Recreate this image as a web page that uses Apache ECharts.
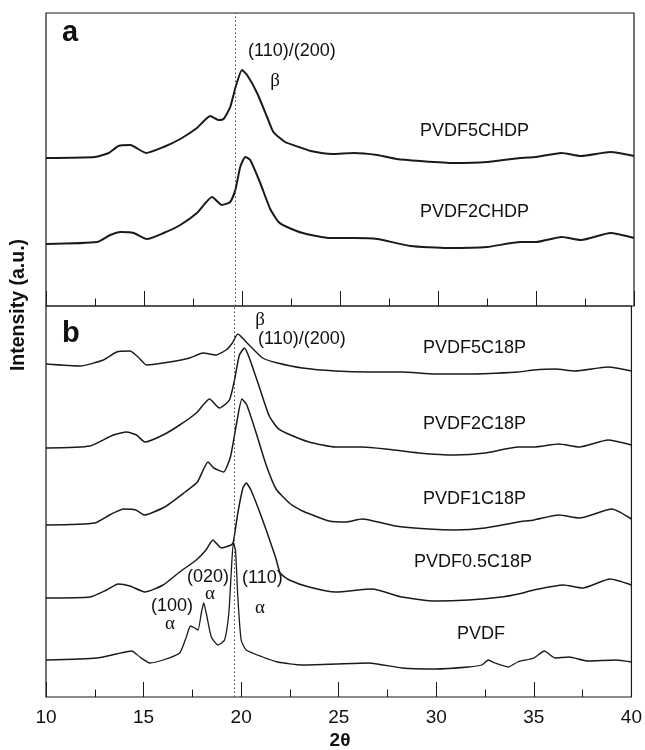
<!DOCTYPE html>
<html>
<head>
<meta charset="utf-8">
<script src="https://cdn.jsdelivr.net/npm/echarts@6/dist/echarts.min.js"></script>
<style>html,body{margin:0;padding:0;background:#fff}#c{width:645px;height:750px}</style>
</head>
<body>
<div id="c"></div>
<script>
// ---- Data (2θ in degrees, intensity in arbitrary units) ----
const xTicks = [10, 15, 20, 25, 30, 35, 40];
const refLine = 19.66;

// Panel a
const pvdf5chdpX = [10, 12.5, 13.2, 13.7, 14.3, 15.1, 16.0, 16.85, 17.7, 18.38, 18.8, 19.06, 19.4, 19.66, 20.0, 20.26, 20.77, 21.28, 21.6, 22.2, 22.9, 23.5, 24.6, 25.7, 26.9, 27.9, 29.1, 30.8, 32.5, 34.2, 35.0, 36.3, 37.3, 38.8, 40];
const pvdf5chdpY = [148, 149, 153, 160, 161, 153, 159, 167, 178, 190, 186, 187, 199, 218, 236, 231, 213, 189, 174, 164, 159, 155, 152, 153, 151, 147, 145, 143, 144, 148, 149, 153, 150, 154, 150];
const pvdf2chdpX = [10, 12.6, 13.28, 13.8, 14.47, 15.15, 16.0, 16.85, 17.7, 18.47, 18.98, 19.4, 19.66, 19.91, 20.17, 20.42, 20.93, 21.44, 21.87, 22.3, 23.1, 24.5, 25.7, 26.9, 28.6, 30.5, 32.5, 34.2, 35.0, 36.3, 37.3, 38.8, 40];
const pvdf2chdpY = [62, 64, 71, 74, 73, 67, 73, 81, 93, 109, 101, 104, 116, 139, 149, 146, 123, 97, 84, 79, 73, 68, 68, 67, 60, 58, 59, 64, 64, 69, 66, 73, 68];

// Panel b
const pvdf5c18pX = [10, 11.75, 12.94, 13.62, 14.3, 14.72, 15.15, 16.34, 17.36, 18.04, 18.72, 19.23, 19.55, 19.83, 20.26, 21.1, 21.87, 23.14, 24.84, 26.54, 28.24, 29.94, 31.65, 34.2, 35.0, 36.1, 37.1, 38.8, 40];
const pvdf5c18pY = [333, 331, 337, 345, 346, 340, 332, 335, 339, 344, 342, 347, 354, 363, 355, 339, 334, 329, 326, 325, 325, 323, 323, 325, 327, 328, 326, 330, 326];
const pvdf2c18pX = [10, 12.26, 13.45, 14.13, 14.64, 15.07, 16.0, 16.85, 17.7, 18.38, 18.89, 19.4, 19.66, 19.91, 20.17, 20.42, 20.93, 21.44, 21.87, 22.3, 23.48, 24.84, 26.2, 27.4, 29.1, 30.97, 32.5, 34.2, 35.0, 36.28, 37.33, 38.8, 40];
const pvdf2c18pY = [249, 251, 262, 265, 262, 255, 262, 272, 284, 298, 289, 297, 317, 342, 349, 339, 310, 281, 269, 264, 255, 250, 250, 248, 244, 242, 244, 250, 250, 253, 250, 257, 252];
const pvdf1c18pX = [10, 12.5, 13.35, 13.98, 14.6, 15.03, 16.08, 17.13, 17.76, 18.3, 18.6, 19.1, 19.45, 19.76, 20.04, 20.29, 20.77, 21.28, 21.79, 22.47, 23.14, 23.65, 24.5, 25.36, 26.2, 27.9, 29.6, 30.97, 32.5, 34.2, 35.0, 36.28, 37.33, 39.0, 40];
const pvdf1c18pY = [172, 174, 183, 188, 187, 182, 190, 205, 215, 235, 229, 225, 240, 273, 298, 292, 264, 232, 208, 194, 186, 182, 176, 175, 178, 171, 168, 167, 169, 175, 177, 182, 179, 188, 178];
const pvdf05c18pX = [10, 12.26, 13.1, 13.7, 14.3, 15.07, 16.0, 16.85, 17.7, 18.2, 18.55, 18.98, 19.49, 19.6, 19.83, 20.09, 20.26, 20.5, 21.1, 21.79, 22.0, 22.47, 23.48, 24.84, 26.71, 28.24, 29.94, 31.65, 33.35, 34.2, 35.0, 36.5, 37.5, 38.9, 40];
const pvdf05c18pY = [99, 100, 107, 113, 111, 105, 112, 125, 137, 147, 157, 149, 152, 155, 184, 209, 214, 207, 177, 138, 124, 117, 110, 105, 108, 100, 96, 97, 100, 103, 107, 112, 109, 118, 112];
const pvdfX = [10, 12.6, 13.62, 14.39, 14.81, 15.32, 16.0, 16.85, 17.19, 17.4, 17.62, 17.79, 17.96, 18.08, 18.21, 18.47, 18.81, 19.15, 19.37, 19.49, 19.6, 19.71, 19.83, 20.0, 20.26, 21.1, 21.87, 23.14, 24.84, 26.54, 28.24, 29.94, 31.65, 32.33, 32.67, 33.0, 33.69, 34.17, 35.0, 35.54, 36.07, 36.8, 37.75, 39.22, 40];
const pvdfY = [37, 39, 43, 46, 40, 34, 37, 44, 60, 71, 69, 67, 84, 94, 84, 60, 52, 57, 84, 124, 154, 147, 100, 57, 47, 40, 35, 32, 33, 34, 29, 28, 30, 32, 37, 34, 30, 35, 39, 46, 39, 40, 36, 37, 35];

// ---- Chart ----
const SANS = '"Liberation Sans", Arial, sans-serif';
const SERIF = '"Liberation Serif", "Times New Roman", serif';
const INK = '#1a1a1a';

function pairs(xs, ys) { return xs.map((x, i) => [x, ys[i]]); }

function xAxisCfg(gridIndex, showLabels) {
  return {
    type: 'value', gridIndex, min: 10, max: 40, interval: 5,
    axisLine: { show: false },
    axisTick: { show: true, inside: true, length: 15, lineStyle: { color: INK, width: 1 } },
    minorTick: { show: true, splitNumber: 2, length: 7.5, lineStyle: { color: INK, width: 1 } },
    splitLine: { show: false },
    axisLabel: showLabels ? { show: true, fontSize: 19, color: '#111', fontFamily: SANS, margin: 11 } : { show: false }
  };
}
function yAxisCfg(gridIndex, max) {
  return {
    type: 'value', gridIndex, min: 0, max,
    axisLine: { show: false }, axisTick: { show: false },
    axisLabel: { show: false }, splitLine: { show: false }
  };
}
function lineSeries(name, xi, xs, ys, width, withRef) {
  const s = {
    name, type: 'line', xAxisIndex: xi, yAxisIndex: xi,
    data: pairs(xs, ys), showSymbol: false, smooth: 0.18,
    lineStyle: { color: INK, width }, silent: true, animation: false
  };
  if (withRef) {
    s.markLine = {
      silent: true, symbol: 'none', label: { show: false },
      lineStyle: { type: [1.5, 2.5], color: '#444', width: 1 },
      data: [{ xAxis: refLine }]
    };
  }
  return s;
}

function txt(x, y, text, size, opts = {}) {
  return {
    type: 'text', x, y, silent: true,
    style: {
      text, fontSize: size, fontFamily: opts.family || SANS,
      fontWeight: opts.bold ? 'bold' : 'normal', fill: '#111',
      textAlign: opts.align || 'left', textVerticalAlign: 'middle'
    },
    rotation: opts.rotation || 0
  };
}

const chart = echarts.init(document.getElementById('c'), null, { renderer: 'canvas' });
chart.setOption({
  animation: false,
  backgroundColor: '#fff',
  grid: [
    { left: 46, right: 11, top: 13, height: 293, show: true, borderColor: INK, borderWidth: 1.2, backgroundColor: 'transparent' },
    { left: 46, right: 11, top: 306, height: 391, show: true, borderColor: INK, borderWidth: 1.2, backgroundColor: 'transparent' }
  ],
  xAxis: [xAxisCfg(0, false), xAxisCfg(1, true)],
  yAxis: [yAxisCfg(0, 293), yAxisCfg(1, 391)],
  series: [
    lineSeries('PVDF5CHDP', 0, pvdf5chdpX, pvdf5chdpY, 2, true),
    lineSeries('PVDF2CHDP', 0, pvdf2chdpX, pvdf2chdpY, 2, false),
    lineSeries('PVDF5C18P', 1, pvdf5c18pX, pvdf5c18pY, 1.4, true),
    lineSeries('PVDF2C18P', 1, pvdf2c18pX, pvdf2c18pY, 1.5, false),
    lineSeries('PVDF1C18P', 1, pvdf1c18pX, pvdf1c18pY, 1.5, false),
    lineSeries('PVDF0.5C18P', 1, pvdf05c18pX, pvdf05c18pY, 1.5, false),
    lineSeries('PVDF', 1, pvdfX, pvdfY, 1.3, false)
  ],
  graphic: [
    txt(62, 33, 'a', 29, { bold: true }),
    txt(62, 334, 'b', 29, { bold: true }),
    txt(248, 51, '(110)/(200)', 18),
    txt(275, 81, 'β', 19, { family: SERIF, align: 'center' }),
    txt(420, 131, 'PVDF5CHDP', 18),
    txt(420, 212, 'PVDF2CHDP', 18),
    txt(260, 320, 'β', 19, { family: SERIF, align: 'center' }),
    txt(258, 339, '(110)/(200)', 18),
    txt(423, 348, 'PVDF5C18P', 18),
    txt(423, 424, 'PVDF2C18P', 18),
    txt(423, 499, 'PVDF1C18P', 18),
    txt(414, 562, 'PVDF0.5C18P', 18),
    txt(457, 634, 'PVDF', 18),
    txt(151, 606, '(100)', 18),
    txt(170, 624, 'α', 19, { family: SERIF, align: 'center' }),
    txt(187, 577, '(020)', 18),
    txt(210, 594, 'α', 19, { family: SERIF, align: 'center' }),
    txt(242, 578, '(110)', 18),
    txt(260, 608, 'α', 19, { family: SERIF, align: 'center' }),
    txt(19, 305, 'Intensity (a.u.)', 19.5, { bold: true, align: 'center', rotation: Math.PI / 2 }),
    txt(340, 741, '2θ', 19, { bold: true, align: 'center' })
  ]
});
</script>
</body>
</html>
